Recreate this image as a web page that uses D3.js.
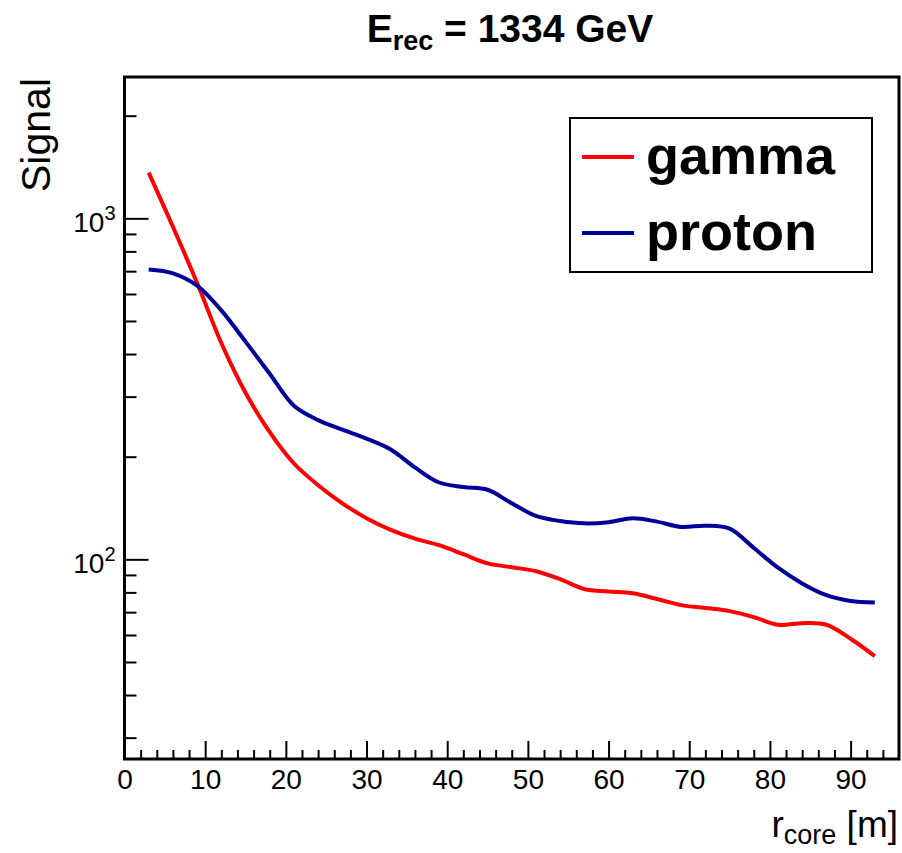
<!DOCTYPE html>
<html>
<head>
<meta charset="utf-8">
<script src="https://cdn.jsdelivr.net/npm/d3@7"></script>
<style>
    body { margin: 0; background: #fff; }
    svg { display: block; font-family: 'Liberation Sans', Arial, Helvetica, sans-serif; }
    .axis path, .axis line { stroke: #000; }
    .axis text { font-size: 28px; fill: #000; }
</style>
</head>
<body>
<svg width="902" height="853"></svg>
<script>
(function (d3) {
    'use strict';

    // r_core [m] sampling points
    var radius = [3, 6, 9, 12, 15, 18, 21, 24, 27, 30, 33, 36, 39, 42, 45, 48,
        51, 54, 57, 60, 63, 66, 69, 72, 75, 78, 81, 84, 87, 90, 93];
    var gammaSignal = [1361, 945, 646, 431, 308, 236, 191, 165, 146, 132, 122, 115, 110, 103.5, 97.3, 94.8,
        92.3, 87.5, 81.8, 80.5, 79.5, 76.5, 73.4, 72, 70.5, 67.7, 64.3, 65, 64.3, 58.5, 52];
    var protonSignal = [708, 690, 635, 537, 435, 350, 282, 256, 240, 226, 210, 186, 168, 163, 160, 146,
        134, 129.5, 127.5, 128.5, 132, 129, 124.5, 125.5, 123, 108, 94.5, 85, 78.5, 75.5, 74.7];
    var seriesNames = ['gamma', 'proton'];
    var seriesColors = ['#ff0000', '#000099'];

    var xMajorTicks = [0, 10, 20, 30, 40, 50, 60, 70, 80, 90];
    var xMinorTicks = d3.range(0, 96, 2).filter(function (v) { return v % 10 !== 0; });
    var yMajorTicks = [100, 1000];
    var yMinorTicks = [30, 40, 50, 60, 70, 80, 90, 200, 300, 400, 500, 600, 700, 800, 900, 2000];

    var svg = d3.select('svg'),
        margin = { top: 77, right: 3, bottom: 94, left: 124.5 },
        width = svg.attr('width') - margin.left - margin.right,
        height = svg.attr('height') - margin.top - margin.bottom;

    var x = d3.scaleLinear().domain([0, 96]).range([0, width]),
        y = d3.scaleLog().domain([25.97, 2597]).range([height, 0]);

    var g = svg.append('g')
        .attr('transform', 'translate(' + margin.left + ',' + margin.top + ')');

    function tidy(s) {
        s.select('.domain').remove();
        s.selectAll('line').attr('stroke-width', 2);
    }

    // x axis: ticks point inward
    g.append('g')
        .attr('class', 'axis axis--x')
        .attr('transform', 'translate(0,' + height + ')')
        .call(d3.axisBottom(x).tickValues(xMajorTicks).tickSize(-18).tickPadding(10).tickFormat(d3.format('d')))
        .call(tidy);

    g.append('g')
        .attr('class', 'axis')
        .attr('transform', 'translate(0,' + height + ')')
        .call(d3.axisBottom(x).tickValues(xMinorTicks).tickSize(-9).tickFormat(''))
        .call(tidy);

    // y axis (log)
    g.append('g')
        .attr('class', 'axis axis--y')
        .call(d3.axisLeft(y).tickValues(yMajorTicks).tickSize(-24).tickFormat(''))
        .call(tidy);

    g.append('g')
        .attr('class', 'axis')
        .call(d3.axisLeft(y).tickValues(yMinorTicks).tickSize(-12).tickFormat(''))
        .call(tidy);

    var ylab = g.selectAll('.ylab')
        .data(yMajorTicks)
        .enter().append('text')
        .attr('class', 'ylab')
        .attr('x', -9)
        .attr('y', function (d) { return y(d) + 14; })
        .attr('text-anchor', 'end')
        .style('font-size', '28px');
    ylab.append('tspan').text('10');
    ylab.append('tspan')
        .attr('dy', -12)
        .style('font-size', '20px')
        .text(function (d) { return Math.round(Math.log10(d)); });

    // curves
    var line = d3.line()
        .curve(d3.curveCatmullRom.alpha(0.5))
        .x(function (d) { return x(d[0]); })
        .y(function (d) { return y(d[1]); });

    var series = [gammaSignal, protonSignal];
    series.forEach(function (vals, k) {
        g.append('path')
            .datum(radius.map(function (r, i) { return [r, vals[i]]; }))
            .attr('fill', 'none')
            .attr('stroke', seriesColors[k])
            .attr('stroke-width', 4)
            .attr('d', line);
    });

    // frame
    g.append('rect')
        .attr('width', width)
        .attr('height', height)
        .attr('fill', 'none')
        .attr('stroke', '#000')
        .attr('stroke-width', 3);

    // legend
    var legend = svg.append('g').attr('transform', 'translate(570,118)');
    legend.append('rect')
        .attr('width', 302)
        .attr('height', 154)
        .attr('fill', '#fff')
        .attr('stroke', '#000')
        .attr('stroke-width', 2);

    var item = legend.selectAll('.item')
        .data(seriesNames)
        .enter().append('g')
        .attr('class', 'item')
        .attr('transform', function (d, i) { return 'translate(0,' + (39 + i * 76) + ')'; });

    item.append('line')
        .attr('x1', 12).attr('x2', 64)
        .attr('stroke', function (d, i) { return seriesColors[i]; })
        .attr('stroke-width', 4);

    item.append('text')
        .attr('x', 76)
        .attr('y', 17)
        .style('font-size', '54px')
        .style('font-weight', 'bold')
        .text(function (d) { return d; });

    // title
    var title = svg.append('text')
        .attr('x', 510)
        .attr('y', 42)
        .attr('text-anchor', 'middle')
        .style('font-size', '39px')
        .style('font-weight', 'bold');
    title.append('tspan').text('E');
    title.append('tspan').attr('dy', 8).style('font-size', '27px').text('rec');
    title.append('tspan').attr('dy', -8).text(' = 1334 GeV');

    // axis titles
    var xt = svg.append('text')
        .attr('x', 898)
        .attr('y', 837)
        .attr('text-anchor', 'end')
        .style('font-size', '37px');
    xt.append('tspan').text('r');
    xt.append('tspan').attr('dy', 7).style('font-size', '27px').text('core');
    xt.append('tspan').attr('dy', -7).text(' [m]');

    svg.append('text')
        .attr('transform', 'translate(50,78) rotate(-90)')
        .attr('text-anchor', 'end')
        .style('font-size', '41px')
        .text('Signal');
})(window.d3);
</script>
</body>
</html>
